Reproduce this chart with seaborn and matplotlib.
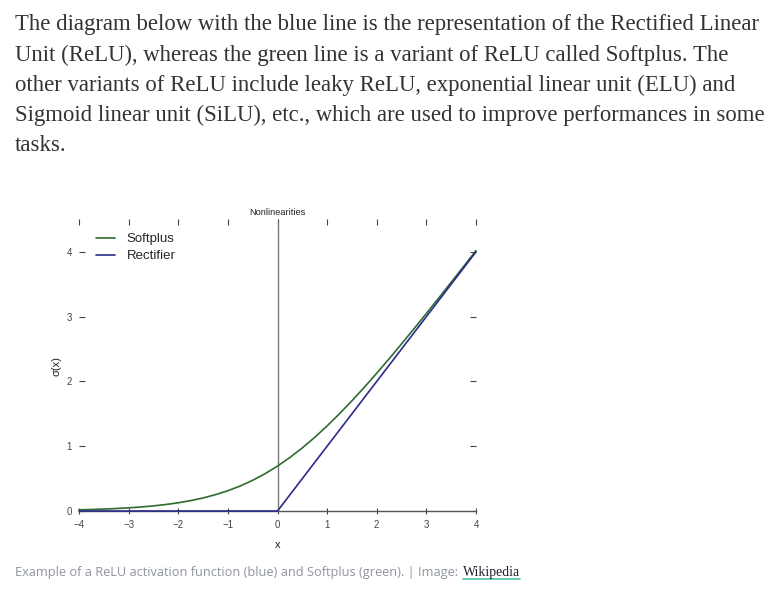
import numpy as np
import pandas as pd
import matplotlib
matplotlib.use("Agg")
import matplotlib.pyplot as plt
import seaborn as sns

# ---- data ----
softplus_x = [-4, -3.75, -3.5, -3.25, -3, -2.75, -2.5, -2.25, -2, -1.75, -1.5, -1.25,
              -1, -0.75, -0.5, -0.25, 0, 0.25, 0.5, 0.75, 1, 1.25, 1.5, 1.75, 2,
              2.25, 2.5, 2.75, 3, 3.25, 3.5, 3.75, 4]
softplus_y = [0.018, 0.023, 0.030, 0.038, 0.049, 0.062, 0.079, 0.100, 0.127, 0.160,
              0.201, 0.252, 0.313, 0.386, 0.474, 0.576, 0.693, 0.826, 0.974, 1.136,
              1.313, 1.502, 1.701, 1.910, 2.127, 2.350, 2.579, 2.812, 3.049, 3.288,
              3.530, 3.773, 4.018]
rect_x = [-4, 0, 4]
rect_y = [0, 0, 4]
series_names = ["Softplus", "Rectifier"]
x_ticks = [-4, -3, -2, -1, 0, 1, 2, 3, 4]
y_ticks = [0, 1, 2, 3, 4]

body_lines = [
    "The diagram below with the blue line is the representation of the Rectified Linear",
    "Unit (ReLU), whereas the green line is a variant of ReLU called Softplus. The",
    "other variants of ReLU include leaky ReLU, exponential linear unit (ELU) and",
    "Sigmoid linear unit (SiLU), etc., which are used to improve performances in some",
    "tasks.",
]
caption_text = "Example of a ReLU activation function (blue) and Softplus (green). | Image: "
caption_link = "Wikipedia"

df = pd.concat([
    pd.DataFrame({"x": softplus_x, "y": softplus_y, "series": series_names[0]}),
    pd.DataFrame({"x": rect_x, "y": rect_y, "series": series_names[1]}),
], ignore_index=True)

sns.set_style("white")
plt.rcParams["font.family"] = ["Liberation Sans", "DejaVu Sans"]

W, H = 777, 591
fig = plt.figure(figsize=(W / 100, H / 100), dpi=100)
fig.patch.set_facecolor("white")

def fx(px):
    return px / W

def fy(py):
    return 1 - py / H

ax = fig.add_axes([fx(79), fy(511), fx(476) - fx(79), fy(222) - fy(511)])
ax.axvline(0, color="#7a7a7a", lw=1.0, zorder=1)
sns.lineplot(data=df, x="x", y="y", hue="series", ax=ax, sort=False,
             palette={"Softplus": "#2f6a2f", "Rectifier": "#2b2b8c"},
             lw=1.2, zorder=3, clip_on=False)
ax.set_xlim(-4, 4)
ax.set_ylim(0, 4.46)
ax.set_xticks(x_ticks)
ax.set_yticks(y_ticks)
ax.set_xticklabels([f"{t:d}".replace("-", "\u2212") for t in x_ticks])
ax.set_yticklabels([str(t) for t in y_ticks])
for s in ["left", "right", "top"]:
    ax.spines[s].set_visible(False)
ax.spines["bottom"].set_color("#555555")
ax.spines["bottom"].set_linewidth(1.0)
ax.tick_params(axis="x", which="both", bottom=True, top=True, direction="out",
               length=5, width=0.8, colors="#444444", labelsize=7, pad=4)
ax.tick_params(axis="x", which="both", top=True, direction="inout")
ax.tick_params(axis="y", which="both", left=True, right=True, direction="in",
               length=4, width=0.8, colors="#444444", labelsize=7, pad=5)
ax.set_xlabel("x", fontsize=8, color="#222222", labelpad=7)
ax.set_ylabel("σ(x)", fontsize=8, color="#222222", labelpad=4)
ax.set_title("Nonlinearities", fontsize=6.7, color="#222222", pad=5)

leg = ax.legend(frameon=False, loc="upper left", bbox_to_anchor=(0.043, 0.962),
                borderaxespad=0, borderpad=0, fontsize=9.5, handlelength=1.45,
                handletextpad=0.85, labelspacing=0.38, title=None)
for line in leg.get_lines():
    line.set_linewidth(1.2)

# ---- page text ----
baselines = [30, 61, 91, 121, 151]
for txt, b in zip(body_lines, baselines):
    fig.text(fx(15), fy(b), txt, fontsize=16.4, family=["Liberation Serif"],
             color="#333333", va="baseline", ha="left")

cap = fig.text(fx(15), fy(576), caption_text, fontsize=9.2,
               family=["Open Sans", "DejaVu Sans"], color="#8f94a0",
               va="baseline", ha="left")
fig.canvas.draw()
r = fig.canvas.get_renderer()
bb = cap.get_window_extent(r)
link = fig.text(bb.x1 / W + 0.002, fy(576), caption_link, fontsize=9.9,
                family=["Liberation Serif"], color="#222233", va="baseline", ha="left")
lb = link.get_window_extent(r)
fig.add_artist(plt.Line2D([lb.x0 / W, lb.x1 / W], [fy(579), fy(579)],
                          color="#4cc4a9", lw=1.2, transform=fig.transFigure))

fig.savefig("out.png", dpi=100)
